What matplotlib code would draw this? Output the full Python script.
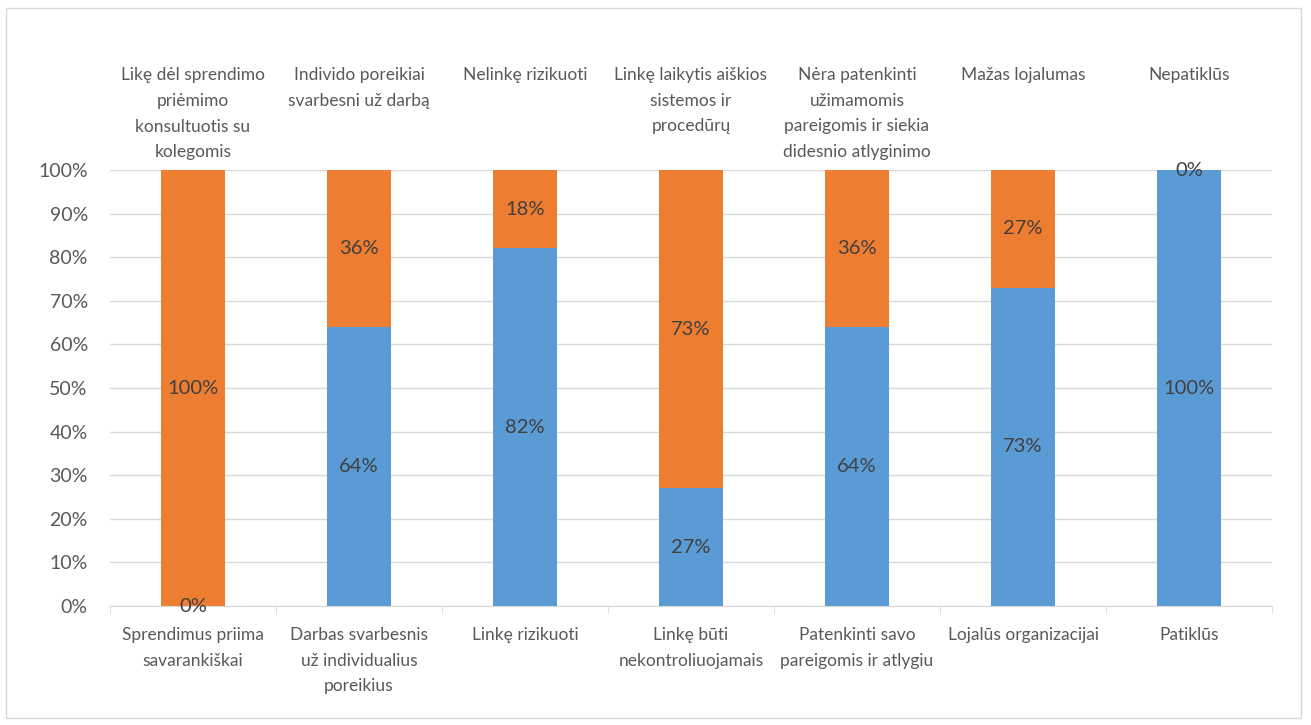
import matplotlib.pyplot as plt
import matplotlib.patches as patches
import matplotlib.transforms as mtransforms
import numpy as np

plt.rcParams['font.family'] = ['Lato', 'DejaVu Sans']

# Category labels (bottom axis = blue series, top = orange series)
bottom_labels = ['Sprendimus priima\nsavarankiškai',
                 'Darbas svarbesnis\nuž individualius\nporeikius',
                 'Linkę rizikuoti',
                 'Linkę būti\nnekontroliuojamais',
                 'Patenkinti savo\npareigomis ir atlygiu',
                 'Lojalūs organizacijai',
                 'Patiklūs']
top_labels = ['Likę dėl sprendimo\npriėmimo\nkonsultuotis su\nkolegomis',
              'Individo poreikiai\nsvarbesni už darbą',
              'Nelinkę rizikuoti',
              'Linkę laikytis aiškios\nsistemos ir\nprocedūrų',
              'Nėra patenkinti\nužimamomis\npareigomis ir siekia\ndidesnio atlyginimo',
              'Mažas lojalumas',
              'Nepatiklūs']

blue_vals = [0, 64, 82, 27, 64, 73, 100]
orange_vals = [100, 36, 18, 73, 36, 27, 0]

blue = '#5B9BD5'
orange = '#ED7D31'
text_col = '#595959'

fig = plt.figure(figsize=(13.11, 7.25), dpi=100)
ax = fig.add_axes([110 / 1311, 1 - 606 / 725, 1162 / 1311, 436 / 725])

x = np.arange(len(blue_vals))
b1 = ax.bar(x, blue_vals, width=0.39, color=blue, zorder=2)
b2 = ax.bar(x, orange_vals, width=0.39, bottom=blue_vals, color=orange, zorder=2)
ax.bar_label(b1, fmt='{:.0f}%', label_type='center', fontsize=14.5, color='#404040')
ax.bar_label(b2, fmt='{:.0f}%', label_type='center', fontsize=14.5, color='#404040')

ax.set_xlim(-0.5, len(x) - 0.5)
ax.set_ylim(0, 100)
ax.set_yticks(np.arange(0, 101, 10))
ax.set_yticklabels([f'{v}%' for v in range(0, 101, 10)])
ax.grid(axis='y', color='#d9d9d9', linewidth=1, zorder=0)
ax.tick_params(axis='y', length=0, pad=16, labelsize=14, labelcolor=text_col)

ax.set_xticks(x)
ax.set_xticklabels(bottom_labels, linespacing=1.75, va='top')
ax.set_xticks(np.arange(-0.5, len(x)), minor=True)
ax.tick_params(axis='x', which='major', length=0, pad=15, labelsize=12.5,
               labelcolor=text_col)
ax.tick_params(axis='x', which='minor', length=5, color='#d9d9d9')

for s in ['top', 'left', 'right']:
    ax.spines[s].set_visible(False)
ax.spines['bottom'].set_color('#d9d9d9')

# labels for the orange series along the top
trans = mtransforms.blended_transform_factory(ax.transData, fig.transFigure)
for xi, lab in zip(x, top_labels):
    ax.text(xi, 1 - 67 / 725, lab, transform=trans, ha='center', va='top',
            fontsize=12.5, color=text_col, linespacing=1.75)

# chart border
fig.patches.append(patches.Rectangle((6 / 1311, 7 / 725), 1295 / 1311, 710 / 725,
                                     transform=fig.transFigure, fill=False,
                                     edgecolor='#d9d9d9', linewidth=1))

fig.savefig('out.png', dpi=100)
